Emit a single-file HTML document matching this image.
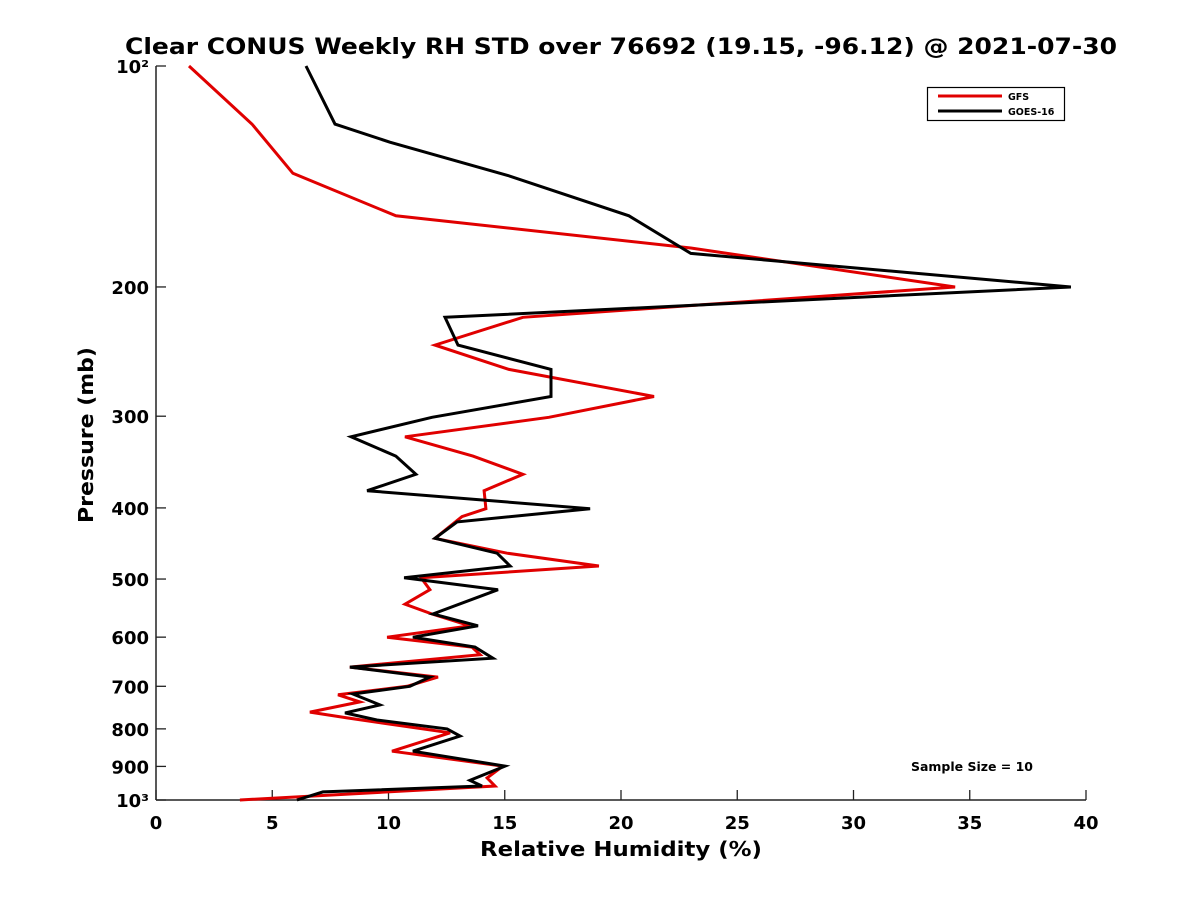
<!DOCTYPE html>
<html><head><meta charset="utf-8"><style>
body{margin:0;background:#fff;}
svg text{font-family:"DejaVu Sans","Liberation Sans",sans-serif;font-weight:bold;}
</style></head><body>
<svg id="chart" width="1200" height="900" viewBox="0 0 1200 900" xmlns="http://www.w3.org/2000/svg">
<rect width="1200" height="900" fill="#fff"/>
<text x="125" y="54" font-size="22" textLength="992" lengthAdjust="spacingAndGlyphs">Clear CONUS Weekly RH STD over 76692 (19.15, -96.12) @ 2021-07-30</text>
<g id="axes"></g>
<g id="series"></g>
<text x="480" y="856" font-size="20" textLength="282" lengthAdjust="spacingAndGlyphs">Relative Humidity (%)</text>
<text transform="translate(93,523) rotate(-90)" font-size="20" textLength="176" lengthAdjust="spacingAndGlyphs">Pressure (mb)</text>
<g>
<rect x="927.5" y="87.5" width="137" height="33" fill="#fff" stroke="#000" stroke-width="1.2"/>
<line x1="938" y1="96" x2="1002" y2="96" stroke="#e00000" stroke-width="3"/>
<text x="1008" y="100" font-size="9.5">GFS</text>
<line x1="938" y1="111" x2="1002" y2="111" stroke="#000" stroke-width="3"/>
<text x="1008" y="115" font-size="9.5">GOES-16</text>
</g>
<text x="911" y="771" font-size="12" textLength="122" lengthAdjust="spacingAndGlyphs">Sample Size = 10</text>
</svg>
<script>
const xTicks=[0,5,10,15,20,25,30,35,40];
const yTicks=[100,200,300,400,500,600,700,800,900,1000];
const yTickLabels=["10²","200","300","400","500","600","700","800","900","10³"];
const gfsP=[100,120,140,160,177,200,220,240,259,282,301,320,340,360,379,401,411,440,461,480,498,517,541,558,579,600,619,634,659,680,700,719,735,759,773,810,858,899,933,957,1000];
const gfsRH=[1.42,4.13,5.89,10.32,23.0,34.37,15.78,12.0,15.18,21.42,16.9,10.71,13.63,15.78,14.11,14.19,13.16,12.0,15.1,19.05,11.4,11.78,10.71,11.87,13.5,9.94,13.59,13.94,8.34,12.13,10.8,7.83,8.77,6.62,8.22,12.65,10.15,14.92,14.24,14.58,3.61];
const goesP=[100,120,127,141,160,180,200,220,240,259,282,301,320,340,360,379,401,418,440,461,480,498,517,558,579,600,619,641,659,680,700,717,742,761,778,800,818,858,899,940,957,975,1000];
const goesRH=[6.45,7.7,10.06,15.14,20.34,23.0,39.35,12.43,12.99,16.99,16.99,11.87,8.39,10.32,11.18,9.08,18.67,12.95,12.0,14.67,15.23,10.67,14.71,11.91,13.85,11.05,13.72,14.49,8.34,11.78,10.92,8.47,9.63,8.13,9.5,12.52,13.08,11.05,15.01,13.5,14.02,7.18,6.06];

const X0=156,X1=1086,Y0=66,Y1=800;
const xs=v=>X0+(v-0)/(40-0)*(X1-X0);
const ys=p=>Y0+(Math.log10(p)-2)*(Y1-Y0);
const NS="http://www.w3.org/2000/svg";
function mk(tag,attrs,parent){const e=document.createElementNS(NS,tag);for(const k in attrs)e.setAttribute(k,attrs[k]);parent.appendChild(e);return e;}
const ax=document.getElementById('axes');
let l=mk('line',{x1:X0,y1:Y0,x2:X0,y2:Y1,stroke:'#222','stroke-width':1.5},ax);


l=mk('line',{x1:X0,y1:Y1,x2:X1,y2:Y1,stroke:'#222','stroke-width':1.5},ax);


xTicks.forEach(v=>{
  const x=xs(v);
  const t=mk('line',{x1:x,y1:Y1,x2:x,y2:Y1-10,stroke:'#222','stroke-width':1.3},ax);
  
  
  const tx=mk('text',{x:x,y:Y1+29,'text-anchor':'middle','font-size':18},ax);
  tx.textContent=String(v);
  
  
});
yTicks.forEach((p,i)=>{
  const y=ys(p);
  const t=mk('line',{x1:X0,y1:y,x2:X0+10,y2:y,stroke:'#222','stroke-width':1.3},ax);
  
  
  const tx=mk('text',{x:X0-7,y:y+7,'text-anchor':'end','font-size':18},ax);
  tx.textContent=yTickLabels[i];
  
  
});
const sg=document.getElementById('series');
function line(P,R,color,name){
  const pts=P.map((p,i)=>xs(R[i]).toFixed(1)+','+ys(p).toFixed(1)).join(' ');
  const e=mk('polyline',{points:pts,fill:'none',stroke:color,'stroke-width':3,'stroke-linejoin':'miter'},sg);
  
  
}
line(gfsP,gfsRH,'#e00000','gfs-line');
line(goesP,goesRH,'#000','goes16-line');
</script>
</body></html>
